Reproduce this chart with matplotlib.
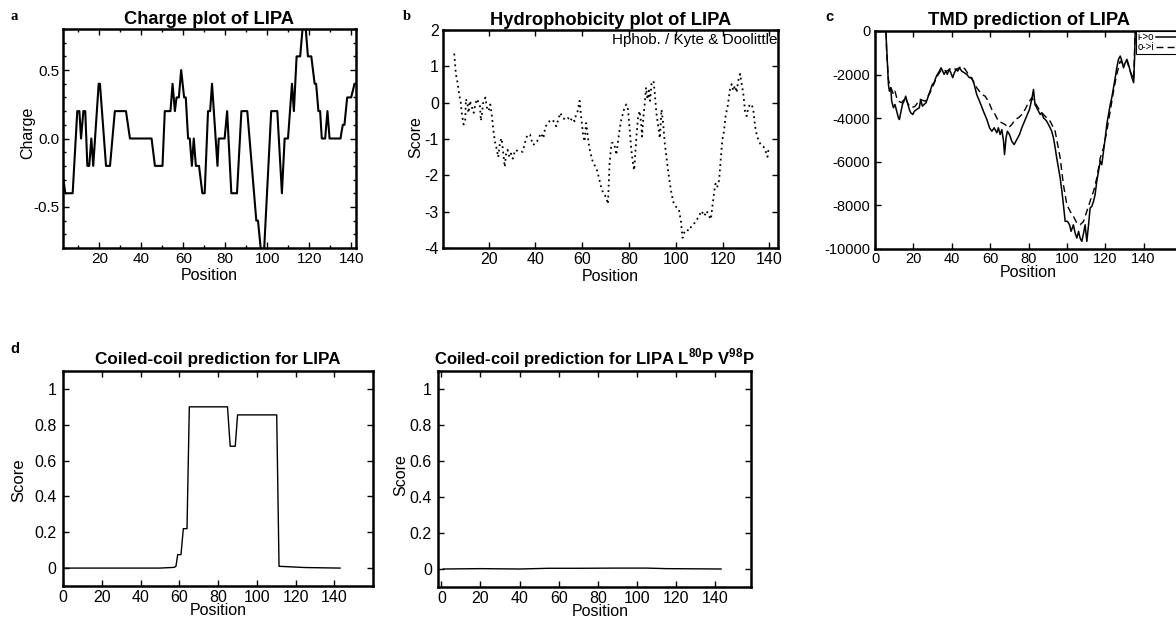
import matplotlib
matplotlib.use('Agg')
import matplotlib.pyplot as plt
from matplotlib.ticker import MultipleLocator

plt.rcParams['font.family'] = ['Liberation Sans', 'DejaVu Sans']
plt.rcParams['axes.unicode_minus'] = False
plt.rcParams['mathtext.fontset'] = 'custom'
plt.rcParams['mathtext.rm'] = 'Liberation Sans'
plt.rcParams['mathtext.bf'] = 'Liberation Sans:bold'

# ---------------- data ----------------
# (a) charge plot
charge_pos = [2.9, 3.8, 7.3, 9.5, 10.5, 11.3, 12.4, 13.3, 14.3, 15.2, 16.2, 17.1, 19.7, 20.3,
              23.2, 25.1, 27.4, 32.7, 34.6, 44.9, 46.5, 50.1, 51.2, 53.9, 54.9, 56.0, 56.8,
              57.9, 59.0, 60.4, 61.2, 62.3, 63.1, 64.1, 65.0, 66.0, 67.5, 69.1, 70.2, 71.8,
              72.8, 73.7, 76.3, 76.9, 79.7, 80.9, 82.9, 85.6, 87.7, 90.5, 94.8, 95.6, 97.2,
              98.4, 101.9, 104.8, 107.0, 108.3, 109.9, 111.8, 112.7, 114.0, 115.7, 117.1,
              118.1, 119.4, 121.0, 122.6, 123.3, 124.4, 125.2, 126.0, 127.6, 128.7, 129.7,
              134.9, 136.0, 136.8, 138.1, 140.0, 141.6, 142.5]
charge_val = [-0.3, -0.4, -0.4, 0.2, 0.2, 0.0, 0.2, 0.2, -0.2, -0.2, 0.0, -0.2, 0.4, 0.4,
              -0.2, -0.2, 0.2, 0.2, 0.0, 0.0, -0.2, -0.2, 0.2, 0.2, 0.4, 0.2, 0.3,
              0.3, 0.5, 0.3, 0.3, 0.0, 0.0, -0.2, 0.0, -0.2, -0.2, -0.4, -0.4, 0.2,
              0.2, 0.4, -0.2, 0.0, 0.0, 0.2, -0.4, -0.4, 0.2, 0.2, -0.6, -0.6, -0.85,
              -0.85, 0.2, 0.2, -0.4, 0.0, 0.0, 0.4, 0.2, 0.6, 0.6, 0.85,
              0.85, 0.6, 0.6, 0.4, 0.4, 0.2, 0.2, 0.0, 0.0, 0.2, 0.0,
              0.0, 0.1, 0.1, 0.3, 0.3, 0.4, 0.4]

# (b) hydrophobicity (Kyte & Doolittle)
hphob_pos = [5.3, 6.0, 6.7, 7.4, 8.1, 8.6, 9.3, 10.0, 10.3, 11.0, 11.4, 12.0, 12.9, 13.6,
             14.3, 15.0, 15.7, 16.3, 16.7, 17.1, 17.7, 18.6, 19.3, 20.0, 20.7, 21.4, 22.0,
             22.7, 23.4, 24.1, 24.9, 25.6, 26.1, 26.9, 27.4, 28.1, 28.9, 29.6, 30.3, 31.4,
             33.1, 34.6, 35.3, 36.0, 36.7, 37.7, 38.9, 40.3, 41.7, 42.4, 43.4, 44.3, 45.3,
             46.0, 47.4, 48.9, 50.0, 50.6, 51.7, 52.9, 53.9, 54.9, 55.7, 56.7, 57.4, 58.1,
             58.9, 59.6, 60.3, 61.0, 61.7, 62.4, 63.1, 64.3, 65.3, 66.3, 67.1, 68.1, 69.1,
             70.3, 71.0, 71.7, 72.5, 73.2, 73.9, 74.6, 75.3, 76.0, 76.7, 77.5, 78.2, 78.9,
             79.6, 80.3, 81.0, 81.7, 82.2, 82.7, 83.3, 83.9, 84.6, 85.3, 85.6, 86.2, 86.7,
             87.3, 87.9, 88.5, 89.0, 89.6, 90.5, 91.0, 91.7, 92.5, 93.2, 93.9, 94.6, 95.3,
             96.0, 96.7, 97.5, 98.2, 99.2, 100.3, 101.3, 102.2, 102.9, 103.6, 104.6, 105.6,
             106.7, 108.2, 109.6, 111.0, 112.2, 113.2, 114.2, 115.0, 115.6, 116.5, 117.0,
             117.7, 118.5, 119.3, 119.9, 120.6, 121.3, 122.2, 123.2, 123.9, 124.6, 125.3,
             126.0, 126.7, 127.5, 128.2, 128.9, 129.6, 130.3, 131.0, 131.7, 132.5, 133.2,
             133.9, 134.6, 135.3, 136.3, 137.5, 138.5, 139.2, 139.6]
hphob_val = [1.35, 0.79, 0.56, 0.23, 0.0, -0.33, -0.6, -0.47, 0.1, -0.05, -0.28, 0.05, -0.14, -0.28,
             -0.05, 0.1, 0.0, -0.1, -0.5, -0.33, 0.0, 0.14, -0.14, -0.23, -0.05, -0.37, -0.74,
             -1.07, -1.26, -1.5, -1.07, -0.98, -1.3, -1.77, -1.44, -1.3, -1.5, -1.4, -1.54, -1.3,
             -1.35, -1.35, -1.16, -0.98, -0.88, -0.88, -1.16, -1.12, -0.93, -0.84, -0.98, -0.65, -0.6,
             -0.51, -0.47, -0.65, -0.42, -0.28, -0.42, -0.47, -0.42, -0.51, -0.42, -0.51, -0.33, -0.23,
             0.05, -0.42, -0.84, -1.07, -0.56, -0.93, -1.26, -1.58, -1.72, -1.86, -2.05, -2.33, -2.51,
             -2.6, -2.79, -1.67, -1.12, -1.1, -1.2, -1.44, -1.07, -0.74, -0.47, -0.28, -0.1, -0.05,
             -0.19, -0.74, -1.3, -1.67, -1.86, -1.4, -0.84, -0.37, -0.23, -0.65, -0.93, -0.37, -0.05,
             0.42, 0.09, 0.33, 0.05, 0.51, 0.6, 0.28, -0.28, -0.65, -0.98, -0.19, -0.56, -1.12,
             -1.49, -1.86, -2.23, -2.51, -2.79, -2.88, -2.93, -3.26, -3.72, -3.58, -3.49, -3.53,
             -3.4, -3.3, -3.16, -2.98, -3.12, -2.98, -3.12, -3.21, -2.88, -2.42, -2.23,
             -2.33, -2.14, -1.49, -1.02, -0.79, -0.37, -0.09, 0.37, 0.51, 0.33, 0.47,
             0.28, 0.6, 0.79, 0.51, 0.23, -0.23, -0.37, -0.14, -0.05, -0.05, -0.23,
             -0.65, -0.88, -1.02, -1.16, -1.21, -1.35, -1.49, -1.3]

# (c) TMD prediction, inside->outside (solid) and outside->inside (dashed)
tmd_io_pos = [5.5, 5.7, 6.4, 7.0, 7.5, 8.2, 8.7, 9.6, 10.4, 11.3, 12.2, 12.7, 13.6, 14.3, 15.1,
              16.0, 16.9, 17.9, 18.6, 19.7, 20.5, 21.7, 23.1, 23.8, 24.7, 25.6, 26.6, 27.8,
              29.0, 29.9, 30.8, 31.7, 32.5, 33.6, 34.4, 35.3, 36.0, 36.9, 37.7, 38.6, 39.5,
              40.5, 41.4, 42.3, 43.1, 44.0, 45.2, 46.4, 47.8, 49.2, 50.4, 51.7, 53.0, 54.8,
              56.5, 58.3, 59.7, 60.9, 62.1, 63.5, 64.3, 65.2, 66.1, 67.0, 67.5, 68.3, 69.0,
              70.1, 71.3, 72.5, 73.9, 75.3, 76.5, 78.7, 80.5, 81.7, 82.6, 83.4, 84.3, 85.2,
              86.1, 86.9, 87.8, 88.7, 89.5, 90.4, 91.3, 92.1, 93.0, 93.9, 94.7, 95.6, 96.5,
              97.4, 98.2, 99.1, 100.3, 101.4, 102.2, 103.4, 104.3, 105.2, 106.1, 106.9, 107.8,
              108.7, 109.5, 110.4, 111.3, 112.1, 113.0, 113.9, 114.7, 115.6, 116.5, 117.4,
              118.2, 119.1, 120.0, 120.8, 121.7, 122.6, 123.4, 124.3, 125.2, 126.0, 126.9,
              127.8, 128.7, 129.5, 130.4, 131.3, 132.1, 133.0, 133.9, 134.8, 135.3, 135.6, 136.0]
tmd_io_val = [1500, -80, -1380, -2450, -2760, -2600, -3220, -3520, -3370, -3680, -3980, -4060, -3680, -3370, -3220,
              -2990, -3290, -3600, -3750, -3830, -3680, -3600, -3520, -3140, -3450, -3370, -3290, -2990,
              -2680, -2450, -2370, -2140, -1990, -1840, -1690, -1840, -1990, -1840, -1990, -1760, -1910,
              -2140, -1910, -1760, -1840, -1690, -1840, -1910, -1990, -2140, -2140, -2450, -2910, -3290,
              -3680, -4060, -4440, -4600, -4440, -4670, -4440, -4750, -4520, -5060, -5670, -4900, -4600,
              -4750, -5060, -5210, -4980, -4750, -4440, -3980, -3600, -3140, -2680, -3370, -3520, -3680,
              -3830, -3750, -3980, -4060, -4140, -4290, -4440, -4600, -4900, -5360, -5820, -6280, -6740,
              -7350, -7970, -8730, -8730, -8890, -9190, -8890, -9270, -9500, -9190, -9500, -9650,
              -9270, -8890, -9650, -8890, -8120, -8040, -7810, -7510, -6890, -6430, -5970,
              -6130, -5520, -4900, -4290, -3830, -3370, -3060, -2600, -2140, -1690, -1300,
              -1150, -1380, -1690, -1460, -1300, -1530, -1840, -2140, -2370, -1230, 0, 1500]
tmd_oi_pos = [5.5, 6.0, 7.0, 7.8, 8.7, 9.6, 10.4, 11.3, 12.2, 13.9, 15.7, 17.4, 19.1, 20.9, 23.5,
              26.1, 28.7, 31.3, 33.0, 34.8, 37.4, 40.0, 42.6, 45.2, 47.0, 48.7, 51.3, 53.0,
              55.7, 57.4, 59.1, 60.9, 62.6, 64.3, 66.1, 67.8, 69.6, 71.3, 73.0, 74.8, 76.5,
              78.2, 80.0, 81.7, 83.4, 86.1, 88.7, 91.3, 93.9, 96.5, 98.2, 100.0, 101.7, 103.4,
              105.2, 106.9, 108.7, 110.4, 112.1, 113.9, 115.6, 117.4, 119.1, 120.8, 122.6,
              124.3, 126.0, 127.8, 129.5, 131.3, 133.0, 134.8, 135.6, 136.0]
tmd_oi_val = [1500, -900, -2220, -2530, -2680, -2910, -2760, -3060, -3220, -3290, -3060, -3370, -3520, -3450, -3140,
              -3220, -2830, -2300, -1990, -1760, -1840, -1690, -1760, -1610, -1760, -1990, -2300, -2600,
              -2910, -2990, -3220, -3600, -3830, -4140, -4210, -4290, -4440, -4290, -4060, -3980, -3830,
              -3600, -3290, -3060, -3290, -3680, -3910, -4140, -4600, -5820, -7050, -7970, -8270, -8500,
              -8810, -8890, -8730, -8270, -7810, -7350, -6740, -5820, -5360, -4600, -3680,
              -2760, -1990, -1380, -1530, -1380, -1840, -2220, 0, 1500]

# (d) coiled-coil prediction, wild type and L80P V98P mutant
cc_wt_pos = [1, 50, 57.4, 58.3, 59.2, 60.9, 62.1, 64.0, 65.2, 84.9, 86.3, 88.9, 90.1, 110.3, 111.5, 125, 143]
cc_wt_val = [0.0, 0.0, 0.004, 0.01, 0.075, 0.075, 0.22, 0.22, 0.9, 0.9, 0.68, 0.68, 0.855, 0.855, 0.01, 0.003, 0.0]
cc_mut_pos = [1, 20, 40, 55, 70, 90, 105, 115, 130, 143]
cc_mut_val = [0.0, 0.002, 0.0, 0.004, 0.004, 0.005, 0.005, 0.002, 0.001, 0.0]

# tick labels
charge_yticks = [-0.5, 0.0, 0.5]
charge_yticklabels = ['-0.5', '0.0', '0.5']
pos_ticks_top = [20, 40, 60, 80, 100, 120, 140]
pos_ticks_all = [0, 20, 40, 60, 80, 100, 120, 140]
hphob_yticks = [-4, -3, -2, -1, 0, 1, 2]
tmd_yticks = [-10000, -8000, -6000, -4000, -2000, 0]
cc_yticks = [0, 0.2, 0.4, 0.6, 0.8, 1]
cc_yticklabels = ['0', '0.2', '0.4', '0.6', '0.8', '1']

# ---------------- figure ----------------
W, H = 1176, 622
fig = plt.figure(figsize=(W / 100, H / 100), dpi=100)


def box(l, t, r, b):
    return [l / W, 1 - b / H, (r - l) / W, (b - t) / H]


def style(ax, lsize, xpad, ypad):
    for s in ax.spines.values():
        s.set_linewidth(1.8)
    ax.tick_params(which='both', direction='in', top=True, right=True, width=1,
                   labelsize=lsize)
    ax.tick_params(which='major', length=4)
    ax.tick_params(which='minor', length=2.5)
    ax.tick_params(axis='x', pad=xpad)
    ax.tick_params(axis='y', pad=ypad)


# a
axa = fig.add_axes(box(63, 29, 356, 248))
axa.plot(charge_pos, charge_val, color='black', lw=1.5)
axa.set_xlim(2.7, 142.3)
axa.set_ylim(-0.8, 0.8)
axa.set_xticks(pos_ticks_top)
axa.set_yticks(charge_yticks)
axa.set_yticklabels(charge_yticklabels)
axa.xaxis.set_minor_locator(MultipleLocator(10))
axa.yaxis.set_minor_locator(MultipleLocator(0.1))
style(axa, 11, 2.7, 2.2)
axa.set_title('Charge plot of LIPA', fontsize=13.2, fontweight='bold', pad=3.5)
axa.set_xlabel('Position', fontsize=11.5)
axa.set_ylabel('Charge', fontsize=11.5)
axa.xaxis.set_label_coords(0.5, -0.09)
axa.yaxis.set_label_coords(-0.096, 0.525)

# b
axb = fig.add_axes(box(443, 30, 778, 248))
axb.plot(hphob_pos, hphob_val, color='black', lw=1.3, linestyle=(0, (1, 2)))
axb.set_xlim(0.5, 143.7)
axb.set_ylim(-4, 2)
axb.set_xticks(pos_ticks_top)
axb.set_yticks(hphob_yticks)
style(axb, 11.5, 2.7, 3)
axb.set_title('Hydrophobicity plot of LIPA', fontsize=13.2, fontweight='bold', pad=3.6)
axb.set_xlabel('Position', fontsize=11.5)
axb.set_ylabel('Score', fontsize=11.5)
axb.xaxis.set_label_coords(0.5, -0.096)
axb.yaxis.set_label_coords(-0.059, 0.51)
axb.text(0.998, 0.985, 'Hphob. / Kyte & Doolittle', transform=axb.transAxes,
         ha='right', va='top', fontsize=11)

# c
axc = fig.add_axes(box(875, 31, 1182, 249))
axc.plot(tmd_io_pos, tmd_io_val, color='black', lw=1.1, label='i->o')
axc.plot(tmd_oi_pos, tmd_oi_val, color='black', lw=1.0, linestyle=(0, (5, 3)), label='o->i')
axc.set_xlim(0, 160)
axc.set_ylim(-10000, 0)
axc.set_xticks(pos_ticks_all)
axc.set_yticks(tmd_yticks)
style(axc, 10.5, 2.5, 3.5)
axc.set_title('TMD prediction of LIPA', fontsize=13.2, fontweight='bold', pad=4.3)
axc.set_xlabel('Position', fontsize=11.5)
axc.xaxis.set_label_coords(0.498, -0.073)
leg = axc.legend(loc='upper left', bbox_to_anchor=(0.851, 1.0), fontsize=7,
                 frameon=True, fancybox=False, edgecolor='black', framealpha=1,
                 borderpad=0.15, labelspacing=0.0, handlelength=3.0, handletextpad=0.2,
                 borderaxespad=0.0, markerfirst=False)
leg.get_frame().set_linewidth(0.8)

# d
axd = fig.add_axes(box(63, 371, 373, 586))
axd.plot(cc_wt_pos, cc_wt_val, color='black', lw=1.0)
axd.set_xlim(0, 160)
axd.set_ylim(-0.1, 1.1)
axd.set_xticks(pos_ticks_all)
axd.set_yticks(cc_yticks)
axd.set_yticklabels(cc_yticklabels)
style(axd, 11.5, 3, 4.5)
axd.set_title('Coiled-coil prediction for LIPA', fontsize=12.3, fontweight='bold', pad=5)
axd.set_xlabel('Position', fontsize=11.5)
axd.set_ylabel('Score', fontsize=12)
axd.xaxis.set_label_coords(0.5, -0.08)
axd.yaxis.set_label_coords(-0.117, 0.493)

# e
axe = fig.add_axes(box(438, 371, 751, 587))
axe.plot(cc_mut_pos, cc_mut_val, color='black', lw=1.0)
axe.set_xlim(-1.7, 158.3)
axe.set_ylim(-0.1, 1.1)
axe.set_xticks(pos_ticks_all)
axe.set_yticks(cc_yticks)
axe.set_yticklabels(cc_yticklabels)
style(axe, 11.5, 3, 4.5)
axe.set_title(r'Coiled-coil prediction for LIPA L$^{\mathbf{80}}$P V$^{\mathbf{98}}$P',
              fontsize=12, fontweight='bold', pad=5)
axe.set_xlabel('Position', fontsize=11.5)
axe.set_ylabel('Score', fontsize=11.5)
axe.xaxis.set_label_coords(0.518, -0.079)
axe.yaxis.set_label_coords(-0.095, 0.52)

# panel letters
fig.text(10 / W, 1 - 20 / H, 'a', fontsize=10.5, fontweight='bold', family='Liberation Serif')
fig.text(403 / W, 1 - 20 / H, 'b', fontsize=10.5, fontweight='bold', family='Liberation Serif')
fig.text(825 / W, 1 - 21 / H, 'c', fontsize=10.5, fontweight='bold')
fig.text(10 / W, 1 - 353 / H, 'd', fontsize=10.5, fontweight='bold')

fig.savefig('out.png', dpi=100)
